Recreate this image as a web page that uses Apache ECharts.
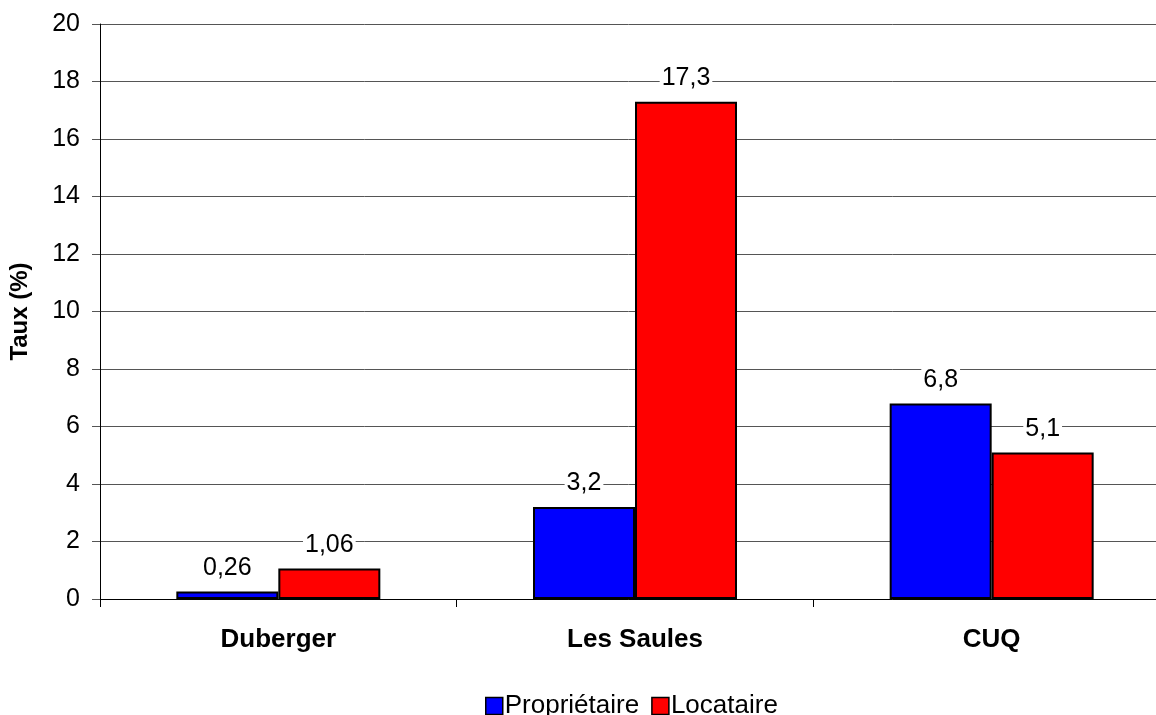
<!DOCTYPE html>
<html>
<head>
<meta charset="utf-8">
<script src="https://cdn.jsdelivr.net/npm/echarts@6/dist/echarts.min.js"></script>
<style>
  html, body { margin: 0; padding: 0; background: #fff; }
  #chart { width: 1156px; height: 715px; }
</style>
</head>
<body>
<div id="chart"></div>
<script>
// Categories and values (%)
const categories = ['Duberger', 'Les Saules', 'CUQ'];
const proprietaire = [0.26, 3.2, 6.8];
const locataire = [1.06, 17.3, 5.1];
const seriesNames = ['Propriétaire', 'Locataire'];
const yTitle = 'Taux (%)';

const FONT = 'Liberation Sans, Arial, sans-serif';
const fmt = p => String(p.value).replace('.', ',');

const labelStyle = {
  show: true,
  position: 'top',
  distance: 11,
  formatter: fmt,
  color: '#000',
  fontFamily: FONT,
  fontSize: 25,
  backgroundColor: '#fff',
  padding: [0, 2]
};

const chart = echarts.init(document.getElementById('chart'));
chart.setOption({
  animation: false,
  backgroundColor: '#fff',
  // plot area runs past the right edge of the canvas
  grid: { left: 100, top: 24, width: 1070, height: 575, containLabel: false, outerBoundsMode: 'none' },
  legend: {
    data: seriesNames,
    top: 688,
    left: 480,
    itemWidth: 17,
    itemHeight: 17,
    itemGap: 12,
    icon: 'rect',
    textStyle: { fontFamily: FONT, fontSize: 26, color: '#000', padding: [0, 0, 0, -3] },
    itemStyle: { borderColor: '#000', borderWidth: 1.5 }
  },
  xAxis: {
    type: 'category',
    data: categories,
    axisLine: { lineStyle: { color: '#000', width: 1 } },
    axisTick: { show: true, alignWithLabel: false, length: 8, lineStyle: { color: '#000' } },
    axisLabel: {
      margin: 28,
      color: '#000',
      fontWeight: 'bold',
      fontSize: 26,
      fontFamily: FONT
    }
  },
  yAxis: {
    type: 'value',
    min: 0,
    max: 20,
    interval: 2,
    name: yTitle,
    nameLocation: 'middle',
    nameGap: 68,
    nameTextStyle: { color: '#000', fontWeight: 'bold', fontSize: 24, fontFamily: FONT },
    axisLine: { show: true, lineStyle: { color: '#000', width: 1 } },
    axisTick: { show: true, length: 8, lineStyle: { color: '#555' } },
    axisLabel: { margin: 20, color: '#000', fontSize: 25, fontFamily: FONT },
    splitLine: { show: true, lineStyle: { color: '#555', width: 1 } }
  },
  series: [
    {
      name: seriesNames[0],
      type: 'bar',
      data: proprietaire,
      barWidth: 102,
      barGap: '0%',
      itemStyle: { color: '#0000ff', borderColor: '#000', borderWidth: 2 },
      label: labelStyle
    },
    {
      name: seriesNames[1],
      type: 'bar',
      data: locataire,
      barWidth: 102,
      barGap: '0%',
      itemStyle: { color: '#ff0000', borderColor: '#000', borderWidth: 2 },
      label: labelStyle
    }
  ]
});
</script>
</body>
</html>
